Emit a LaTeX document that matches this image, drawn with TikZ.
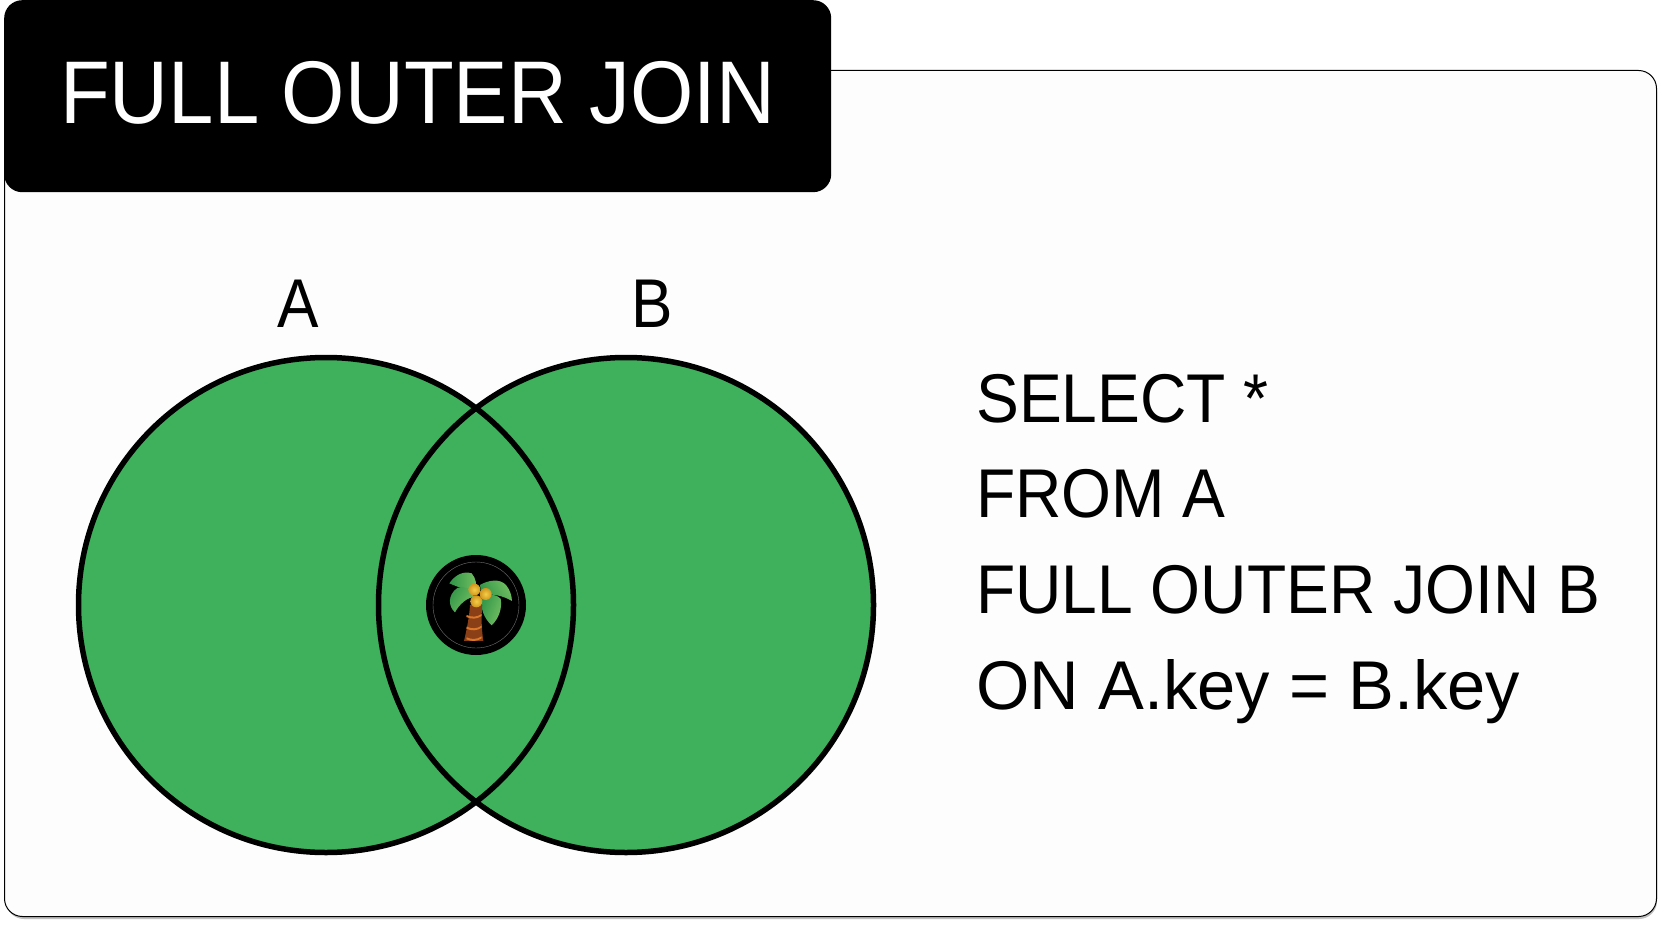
\documentclass[tikz,border=0pt]{standalone}
\usepackage{fontspec}
\setmainfont{Liberation Sans}
\usetikzlibrary{shadings}
\definecolor{vgreen}{HTML}{3FB05B}
\definecolor{cardbg}{HTML}{FDFDFD}
\definecolor{trunkc}{HTML}{8A3F17}
\definecolor{stripec}{HTML}{D9772A}
\definecolor{leafa}{HTML}{2F9448}
\definecolor{leafb}{HTML}{74C062}
\definecolor{nutin}{HTML}{F4CE48}
\definecolor{nutout}{HTML}{D0961F}
\tikzset{
  setcirc/.style={circle,draw=black,line width=5.5pt,minimum size=495pt,inner sep=0pt,outer sep=0pt},
  codeline/.style={anchor=base west,inner sep=0pt,xscale=.93,font=\fontsize{69}{69}\selectfont,text=black},
  setlabel/.style={anchor=base,inner sep=0pt,xscale=.9,font=\fontsize{69}{69}\selectfont,text=black},
  leaf/.style={left color=leafa,right color=leafb,draw=none},
  nut/.style={inner color=nutin,outer color=nutout,draw=none},
}
\begin{document}
\begin{tikzpicture}[x=1pt,y=-1pt,line join=round]
\useasboundingbox (0,0) rectangle (1661,925);
\fill[white] (0,0) rectangle (1661,925);
% card
\fill[black!25,rounded corners=18pt] (6,74) rectangle (1657,919);
\node[draw=black,line width=1pt,fill=cardbg,rounded corners=18pt,minimum width=1652pt,minimum height=846pt,inner sep=0pt,anchor=north west] (card) at (4,70) {};
% title
\node[fill=black,rounded corners=18pt,minimum width=827pt,minimum height=192pt,inner sep=0pt,anchor=north west] (titlebox) at (4,0) {};
\node[anchor=base west,inner sep=0pt,text=white,font=\fontsize{89}{89}\selectfont,xscale=.915] (title) at (60,124) {FULL OUTER JOIN};
% sets
\fill[vgreen] (326,605) circle (247pt) (626,605) circle (247pt);
\node[setcirc] (setA) at (326,605) {};
\node[setcirc] (setB) at (626,605) {};
\node[setlabel] (labA) at (298,327) {A};
\node[setlabel] (labB) at (652,327) {B};
% code
\node[codeline] (c1) at (976,422) {SELECT *};
\node[codeline] (c2) at (976,517) {FROM A};
\node[codeline] (c3) at (976,613) {FULL OUTER JOIN B};
\node[codeline,xscale=1.07] (c4) at (976,709) {ON A.key = B.key};
% palm badge
\node[circle,fill=black,minimum size=100pt,inner sep=0pt] (badge) at (476,605) {};
\draw[black!55,line width=.4pt] (badge.center) circle (43pt);
\begin{scope}[shift={(400,530)},x=0.3333pt,y=-0.3333pt]
  \shade[leaf,shading angle=90] (148,160) .. controls (165,135) and (190,122) .. (215,130) .. controls (228,145) and (232,165) .. (225,185) .. controls (200,180) and (175,172) .. (148,160) -- cycle;
  \shade[leaf,shading angle=60] (165,247) .. controls (145,230) and (142,195) .. (172,174) .. controls (190,165) and (215,175) .. (222,200) .. controls (200,205) and (180,220) .. (165,247) -- cycle;
  \shade[leaf,shading angle=120] (240,165) .. controls (265,150) and (300,145) .. (318,165) .. controls (330,180) and (335,195) .. (336,213) .. controls (310,198) and (280,190) .. (245,195) -- cycle;
  \shade[leaf,shading angle=70] (275,286) .. controls (252,265) and (240,235) .. (245,200) .. controls (265,190) and (290,192) .. (302,206) .. controls (307,235) and (297,265) .. (275,286) -- cycle;
  \fill[trunkc] (210,225) -- (247,225) .. controls (243,260) and (245,300) .. (250,333) -- (192,333) .. controls (200,300) and (208,260) .. (210,225) -- cycle;
  \foreach \ya/\yb in {255/262,290/297,322/329}{
    \fill[stripec] (200,\ya) .. controls (215,\yb) and (230,\yb) .. (245,\ya-3) -- (245,\ya+3) .. controls (230,\yb+6) and (215,\yb+6) .. (199,\ya+6) -- cycle;
  }
  \shade[nut] (223,179) circle (18);
  \shade[nut] (257,192) circle (18);
  \shade[nut] (229,214) circle (18);
\end{scope}
\end{tikzpicture}
\end{document}
